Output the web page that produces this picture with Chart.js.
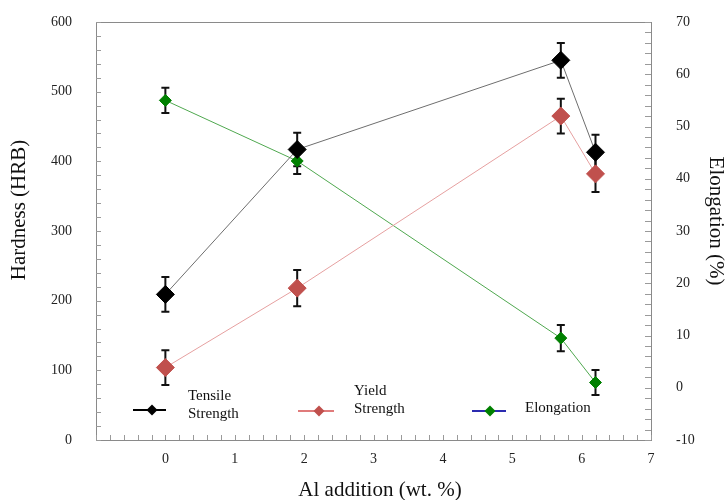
<!DOCTYPE html>
<html><head><meta charset="utf-8">
<script src="https://cdn.jsdelivr.net/npm/chart.js@4"></script>
<style>html,body{margin:0;padding:0;background:#fff}#wrap{width:728px;height:500px;position:relative}</style>
</head><body><div id="wrap"><canvas id="c" width="728" height="500"></canvas></div>
<script>
// ---- data ----
const alAddition = [0, 1.9, 5.7, 6.2];
const tensileStrength = [209, 417, 545, 413];
const tensileError = [25, 24, 25, 25];
const yieldStrength = [104, 218, 465, 382];
const yieldError = [25, 26, 25, 26];
const elongation = [55, 43.4, 9.5, 1.0];
const elongationError = [2.4, 2.5, 2.5, 2.4];
const xTickLabels = [0, 1, 2, 3, 4, 5, 6, 7];
const leftTickLabels = [0, 100, 200, 300, 400, 500, 600];
const rightTickLabels = [-10, 0, 10, 20, 30, 40, 50, 60, 70];
const seriesNames = ['Tensile Strength', 'Yield Strength', 'Elongation'];
const axisTitles = { x: 'Al addition (wt. %)', y: 'Hardness (HRB)', y2: 'Elongation (%)' };

const SERIF = "'Liberation Serif', 'DejaVu Serif', serif";
const pts = (ys) => alAddition.map((x, i) => ({ x, y: ys[i] }));
const zeroPad = (s) => { s.paddingTop = 0; s.paddingBottom = 0; s.paddingLeft = 0; s.paddingRight = 0; };

const errorBars = {
  id: 'errorBars',
  beforeDatasetsDraw(chart) {
    const ctx = chart.ctx;
    const sets = [[tensileStrength, tensileError, 'y'], [yieldStrength, yieldError, 'y'], [elongation, elongationError, 'y2']];
    ctx.save();
    ctx.strokeStyle = '#111';
    ctx.lineWidth = 2;
    sets.forEach(([vals, errs, ax]) => {
      const sc = chart.scales[ax];
      const xs = chart.scales.x;
      vals.forEach((v, i) => {
        const px = xs.getPixelForValue(alAddition[i]);
        const top = sc.getPixelForValue(v + errs[i]);
        const bot = sc.getPixelForValue(v - errs[i]);
        ctx.beginPath();
        ctx.moveTo(px, top); ctx.lineTo(px, bot);
        ctx.moveTo(px - 4, top); ctx.lineTo(px + 4, top);
        ctx.moveTo(px - 4, bot); ctx.lineTo(px + 4, bot);
        ctx.stroke();
      });
    });
    ctx.restore();
  }
};

const frameAndDecor = {
  id: 'frameAndDecor',
  beforeDatasetsDraw(chart) {
    const { ctx, chartArea: a } = chart;
    const xs = chart.scales.x, yl = chart.scales.y, yr = chart.scales.y2;
    ctx.save();
    ctx.strokeStyle = '#8a8a8a';
    ctx.lineWidth = 1;
    ctx.strokeRect(Math.round(a.left) + 0.5, Math.round(a.top) + 0.5, Math.round(a.right - a.left), Math.round(a.bottom - a.top));
    ctx.strokeStyle = '#9a9a9a';
    ctx.beginPath();
    for (let v = yl.min; v <= yl.max + 1e-6; v += 20) {
      const p = Math.round(yl.getPixelForValue(v)) + 0.5;
      ctx.moveTo(a.left, p); ctx.lineTo(a.left + 5, p);
    }
    for (let v = yr.min; v <= yr.max + 1e-6; v += 2) {
      const p = Math.round(yr.getPixelForValue(v)) + 0.5;
      ctx.moveTo(a.right, p); ctx.lineTo(a.right - 6, p);
    }
    for (let v = xs.min; v <= xs.max + 1e-6; v += 0.2) {
      const p = Math.round(xs.getPixelForValue(v)) + 0.5;
      ctx.moveTo(p, a.bottom); ctx.lineTo(p, a.bottom - 5);
    }
    ctx.stroke();
    ctx.restore();
  },
  afterDraw(chart) {
    const { ctx } = chart;
    ctx.save();
    ctx.fillStyle = '#111';
    ctx.font = '21px ' + SERIF;
    ctx.textAlign = 'center';
    ctx.textBaseline = 'middle';
    ctx.fillText(axisTitles.x, 380, 490);
    ctx.save();
    ctx.translate(19, 210); ctx.rotate(-Math.PI / 2);
    ctx.fillText(axisTitles.y, 0, 0);
    ctx.restore();
    ctx.save();
    ctx.translate(716, 221); ctx.rotate(Math.PI / 2);
    ctx.fillText(axisTitles.y2, 0, 0);
    ctx.restore();

    // legend
    const diamond = (x, y, r, col) => {
      ctx.fillStyle = col;
      ctx.beginPath();
      ctx.moveTo(x - r, y); ctx.lineTo(x, y - r); ctx.lineTo(x + r, y); ctx.lineTo(x, y + r);
      ctx.closePath(); ctx.fill();
    };
    const seg = (x1, x2, y, col) => {
      ctx.strokeStyle = col; ctx.lineWidth = 2;
      ctx.beginPath(); ctx.moveTo(x1, y); ctx.lineTo(x2, y); ctx.stroke();
    };
    seg(133, 166, 410, '#000'); diamond(152, 410, 5.5, '#000');
    seg(298, 334, 411, '#e07b7b'); diamond(319, 411, 5.5, '#c0504d');
    seg(472, 506, 411, '#2b2bb0'); diamond(490, 411, 5.5, '#008000');
    ctx.fillStyle = '#111';
    ctx.font = '15px ' + SERIF;
    ctx.textAlign = 'left';
    const t = seriesNames[0].split(' ');
    ctx.fillText(t[0], 188, 396); ctx.fillText(t[1], 188, 414);
    const y = seriesNames[1].split(' ');
    ctx.fillText(y[0], 354, 391); ctx.fillText(y[1], 354, 409);
    ctx.fillText(seriesNames[2], 525, 408);
    ctx.restore();
  }
};

new Chart(document.getElementById('c'), {
  type: 'line',
  data: {
    datasets: [
      { label: seriesNames[0], data: pts(tensileStrength), yAxisID: 'y', borderColor: '#6e6e6e', borderWidth: 1,
        pointStyle: 'rectRot', pointRadius: 9, pointBackgroundColor: '#000', pointBorderColor: '#000', pointBorderWidth: 1, order: 1 },
      { label: seriesNames[1], data: pts(yieldStrength), yAxisID: 'y', borderColor: '#e6a0a0', borderWidth: 1,
        pointStyle: 'rectRot', pointRadius: 9, pointBackgroundColor: '#c0504d', pointBorderColor: '#c0504d', pointBorderWidth: 1, order: 2 },
      { label: seriesNames[2], data: pts(elongation), yAxisID: 'y2', borderColor: '#4fa84f', borderWidth: 1,
        pointStyle: 'rectRot', pointRadius: 6, pointBackgroundColor: '#008000', pointBorderColor: '#008000', pointBorderWidth: 1, order: 3 }
    ]
  },
  options: {
    responsive: false,
    animation: false,
    devicePixelRatio: 1,
    layout: { padding: { top: 22, left: 0, right: 0, bottom: 0 } },
    plugins: { legend: { display: false }, tooltip: { enabled: false } },
    scales: {
      x: {
        type: 'linear', min: -1, max: 7,
        afterFit(s) { s.height = 60; zeroPad(s); },
        afterBuildTicks(s) { s.ticks = xTickLabels.map(v => ({ value: v })); },
        grid: { display: false, drawTicks: false }, border: { display: false },
        ticks: { padding: 11, color: '#222', font: { family: SERIF, size: 14 } }
      },
      y: {
        type: 'linear', position: 'left', min: 0, max: 600,
        afterFit(s) { s.width = 96; zeroPad(s); },
        afterBuildTicks(s) { s.ticks = leftTickLabels.map(v => ({ value: v })); },
        grid: { display: false, drawTicks: false }, border: { display: false },
        ticks: { padding: 24, color: '#222', font: { family: SERIF, size: 14 } }
      },
      y2: {
        type: 'linear', position: 'right', min: -10, max: 70,
        afterFit(s) { s.width = 77; zeroPad(s); },
        afterBuildTicks(s) { s.ticks = rightTickLabels.map(v => ({ value: v })); },
        grid: { display: false, drawTicks: false }, border: { display: false },
        ticks: { padding: 25, color: '#222', font: { family: SERIF, size: 14 } }
      }
    }
  },
  plugins: [frameAndDecor, errorBars]
});
</script>
</body></html>
